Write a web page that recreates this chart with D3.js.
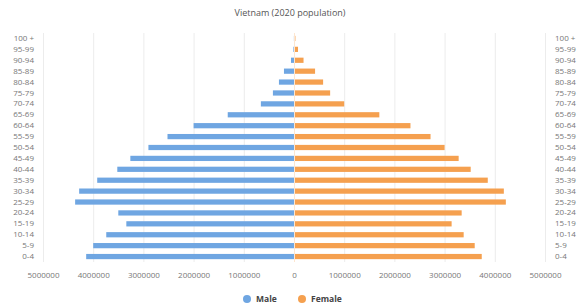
<!DOCTYPE html>
<html><head><meta charset="utf-8">
<script src="https://cdn.jsdelivr.net/npm/d3@7"></script>
<style>body{margin:0;background:#fff;}svg{display:block;font-family:"Open Sans","DejaVu Sans",sans-serif;}</style>
</head><body><svg id="c" width="580" height="307"></svg>
<script>
const ageGroups = ["0-4","5-9","10-14","15-19","20-24","25-29","30-34","35-39","40-44","45-49","50-54","55-59","60-64","65-69","70-74","75-79","80-84","85-89","90-94","95-99","100 +"];
const male   = [4140000,4000000,3740000,3340000,3500000,4360000,4280000,3920000,3520000,3260000,2900000,2520000,2000000,1320000,660000,420000,300000,200000,60000,12000,2000];
const female = [3720000,3580000,3360000,3120000,3320000,4200000,4160000,3840000,3500000,3260000,2980000,2700000,2300000,1680000,980000,700000,560000,400000,170000,60000,8000];
const tickValues = [-5000000,-4000000,-3000000,-2000000,-1000000,0,1000000,2000000,3000000,4000000,5000000];
const seriesNames = ["Male","Female"];
const colors = ["#6fa6e2","#f5a04f"];

const svg = d3.select("#c");
const x = d3.scaleLinear().domain([-5000000,5000000]).range([43,545]);
const y = d3.scaleBand().domain(ageGroups.slice().reverse()).range([33,262]).paddingInner(0.52).paddingOuter(0.26);

svg.append("text").attr("x",290).attr("y",16).attr("text-anchor","middle")
  .attr("font-size",9).attr("fill","#555").text("Vietnam (2020 population)");

// grid
svg.append("g").selectAll("line").data(tickValues).join("line")
  .attr("x1",d=>x(d)+0.5).attr("x2",d=>x(d)+0.5).attr("y1",33).attr("y2",262)
  .attr("stroke",d=>d===0?"#fde6d0":"#ececec").attr("stroke-width",1);

// x axis
const xAxis = d3.axisBottom(x).tickValues(tickValues).tickSize(0).tickPadding(6)
  .tickFormat(d=>String(Math.abs(d)));
const gx = svg.append("g").attr("transform","translate(0,266)").call(xAxis);
gx.select(".domain").remove();
gx.selectAll("text").attr("font-size",8).attr("fill","#777").attr("font-family","'Open Sans',sans-serif");

// y axes left and right
const yl = d3.axisLeft(y).tickSize(0).tickPadding(0);
const gyl = svg.append("g").attr("transform","translate(34,0)").call(yl);
gyl.select(".domain").remove();
gyl.selectAll("text").attr("font-size",8).attr("fill","#777").attr("font-family","'Open Sans',sans-serif");
const yr = d3.axisRight(y).tickSize(0).tickPadding(0);
const gyr = svg.append("g").attr("transform","translate(555,0)").call(yr);
gyr.select(".domain").remove();
gyr.selectAll("text").attr("font-size",8).attr("fill","#777").attr("font-family","'Open Sans',sans-serif");

// bars
svg.append("g").selectAll("rect").data(ageGroups.map((a,i)=>({a,v:male[i]}))).join("rect")
  .attr("x",d=>x(-d.v)).attr("width",d=>x(0)-x(-d.v)).attr("y",d=>y(d.a)).attr("height",y.bandwidth())
  .attr("fill",colors[0]);
svg.append("g").selectAll("rect").data(ageGroups.map((a,i)=>({a,v:female[i]}))).join("rect")
  .attr("x",x(0)+1).attr("width",d=>x(d.v)-x(0)).attr("y",d=>y(d.a)).attr("height",y.bandwidth())
  .attr("fill",colors[1]);

// legend
const leg = svg.append("g");
const lx = [247,302];
seriesNames.forEach((n,i)=>{
  leg.append("circle").attr("cx",lx[i]).attr("cy",299).attr("r",4).attr("fill",colors[i]);
  leg.append("text").attr("x",lx[i]+9).attr("y",302).attr("font-size",8.5).attr("font-weight","bold")
    .attr("fill","#444").text(n);
});
</script></body></html>
